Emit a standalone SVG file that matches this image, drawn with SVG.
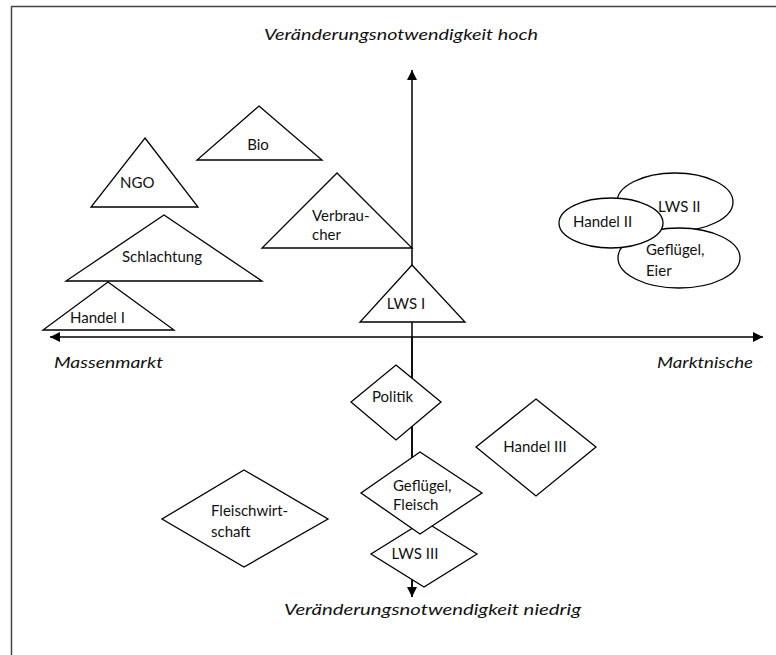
<svg xmlns="http://www.w3.org/2000/svg" width="776" height="655" viewBox="0 0 776 655">
<style>
.shape{fill:#fff;stroke:#000;stroke-width:1.3}
.lbl{font-family:Lato,"Open Sans","Liberation Sans",sans-serif;font-size:15px;fill:#111}
.ax{font-family:Lato,"Open Sans","Liberation Sans",sans-serif;font-size:16px;font-style:italic;fill:#111}
.axis{stroke:#000;stroke-width:1.5;fill:none}
</style>
<defs>
<marker id="ah" viewBox="0 0 10 10" refX="10" refY="5" markerWidth="10" markerHeight="10" markerUnits="userSpaceOnUse" orient="auto">
<path d="M0,0 L10,5 L0,10 Z" fill="#000"/>
</marker>
</defs>
<rect x="0" y="0" width="776" height="655" fill="#fff"/>
<path d="M11.5,655 V6.5 H776" fill="none" stroke="#444" stroke-width="1.5"/>
<text class="ax" x="264" y="40" textLength="274" lengthAdjust="spacingAndGlyphs">Veränderungsnotwendigkeit hoch</text>
<text class="ax" x="54" y="368" textLength="109" lengthAdjust="spacingAndGlyphs">Massenmarkt</text>
<text class="ax" x="657" y="368" textLength="96" lengthAdjust="spacingAndGlyphs">Marktnische</text>
<text class="ax" x="284" y="615" textLength="297" lengthAdjust="spacingAndGlyphs">Veränderungsnotwendigkeit niedrig</text>
<g id="connectors">
<line class="axis" x1="412" y1="597" x2="412" y2="70" marker-end="url(#ah)"/>
<line class="axis" x1="412" y1="337" x2="412" y2="597" marker-end="url(#ah)"/>
<line class="axis" x1="412" y1="337" x2="50" y2="337" marker-end="url(#ah)"/>
<line class="axis" x1="412" y1="337" x2="763" y2="337" marker-end="url(#ah)"/>
</g>
<g id="bio"><polygon class="shape" points="259,106 322,160 197,160"/><text class="lbl" x="258" y="150" text-anchor="middle">Bio</text></g>
<g id="ngo"><polygon class="shape" points="145,138 198,207 91,207"/><text class="lbl" x="120" y="188">NGO</text></g>
<g id="schlachtung"><polygon class="shape" points="164,215 262,281 66,281"/><text class="lbl" x="122" y="262">Schlachtung</text></g>
<g id="handel1"><polygon class="shape" points="108,282 174,330 43,330"/><text class="lbl" x="70" y="323">Handel I</text></g>
<g id="verbraucher"><polygon class="shape" points="337,173 412,248 262,248"/><text class="lbl" x="312" y="221">Verbrau-</text><text class="lbl" x="312" y="240">cher</text></g>
<g id="lws1"><polygon class="shape" points="412,265 465,322 360,322"/><text class="lbl" x="406" y="309" text-anchor="middle">LWS I</text></g>
<g id="lws2"><ellipse class="shape" cx="675" cy="202" rx="58" ry="29"/><text class="lbl" x="658" y="212">LWS II</text></g>
<g id="gefluegel-eier"><ellipse class="shape" cx="679" cy="258" rx="61" ry="30"/><text class="lbl" x="646" y="255">Geflügel,</text><text class="lbl" x="646" y="276">Eier</text></g>
<g id="handel2"><ellipse class="shape" cx="611" cy="223" rx="52" ry="25"/><text class="lbl" x="573" y="227">Handel II</text></g>
<g id="politik"><polygon class="shape" points="396,365 441,402 396,440 351,402"/><text class="lbl" x="372" y="402">Politik</text></g>
<g id="handel3"><polygon class="shape" points="536,399 596,447 536,496 476,447"/><text class="lbl" x="535" y="452" text-anchor="middle">Handel III</text></g>
<g id="fleischwirtschaft"><polygon class="shape" points="244,470 328,519 244,567 162,519"/><text class="lbl" x="211" y="516">Fleischwirt-</text><text class="lbl" x="211" y="537">schaft</text></g>
<g id="lws3"><polygon class="shape" points="424,521 477,554 424,587 371,554"/><text class="lbl" x="415" y="559" text-anchor="middle">LWS III</text></g>
<g id="gefluegel-fleisch"><polygon class="shape" points="420,452 482,493 420,534 361,493"/><text class="lbl" x="393" y="491">Geflügel,</text><text class="lbl" x="393" y="510">Fleisch</text></g>
</svg>
